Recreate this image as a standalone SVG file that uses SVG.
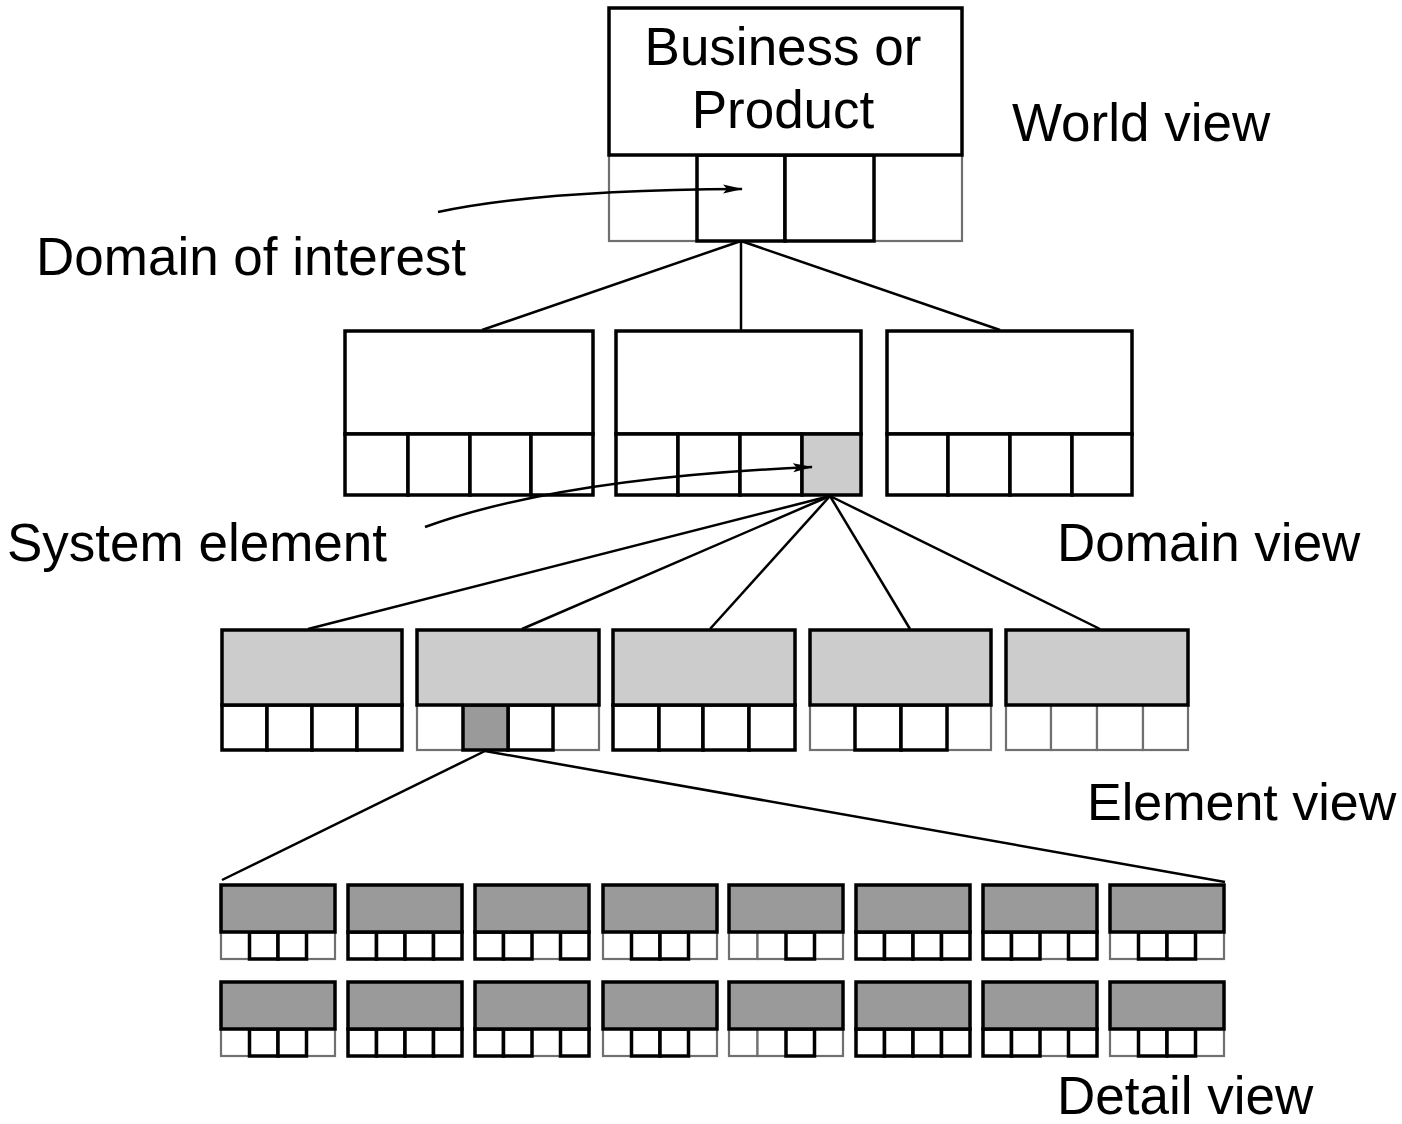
<svg xmlns="http://www.w3.org/2000/svg" width="1402" height="1124" viewBox="0 0 1402 1124">
<style>
.w{fill:#fff;stroke:#000;stroke-width:3.5}
.th{fill:#fff;stroke:#000;stroke-width:3.5}
.tn{fill:#fff;stroke:#707070;stroke-width:2.2}
.lt{fill:#ccc;stroke:#000;stroke-width:3.5}
.dk{fill:#9a9a9a;stroke:#000;stroke-width:3.5}
.conn{stroke:#000;stroke-width:2.5;fill:none}
.lbl{font-family:"Liberation Sans",Arial,sans-serif;font-size:53px;fill:#000}
</style>
<defs>
<marker id="ah2" viewBox="0 0 20 10" refX="19" refY="5" markerWidth="20" markerHeight="10" orient="auto" markerUnits="userSpaceOnUse">
<path d="M0,0.5 L20,5 L0,9.5 L4,5 z" fill="#000"/>
</marker>
<g id="dA">
<rect class="tn" x="0" y="47" width="28.5" height="27"/>
<rect class="tn" x="85.5" y="47" width="28.5" height="27"/>
<rect class="th" x="28.5" y="47" width="28.5" height="27"/>
<rect class="th" x="57" y="47" width="28.5" height="27"/>
<rect class="dk" x="0" y="0" width="114" height="47"/>
</g>
<g id="dB">
<rect class="th" x="0" y="47" width="28.5" height="27"/>
<rect class="th" x="28.5" y="47" width="28.5" height="27"/>
<rect class="th" x="57" y="47" width="28.5" height="27"/>
<rect class="th" x="85.5" y="47" width="28.5" height="27"/>
<rect class="dk" x="0" y="0" width="114" height="47"/>
</g>
<g id="dC">
<rect class="tn" x="57" y="47" width="28.5" height="27"/>
<rect class="th" x="0" y="47" width="28.5" height="27"/>
<rect class="th" x="28.5" y="47" width="28.5" height="27"/>
<rect class="th" x="85.5" y="47" width="28.5" height="27"/>
<rect class="dk" x="0" y="0" width="114" height="47"/>
</g>
<g id="dD">
<rect class="tn" x="0" y="47" width="28.5" height="27"/>
<rect class="tn" x="28.5" y="47" width="28.5" height="27"/>
<rect class="tn" x="85.5" y="47" width="28.5" height="27"/>
<rect class="th" x="57" y="47" width="28.5" height="27"/>
<rect class="dk" x="0" y="0" width="114" height="47"/>
</g>
</defs>
<rect width="1402" height="1124" fill="#fff"/>

<g id="connectors">
<line class="conn" x1="741" y1="241" x2="482" y2="330"/>
<line class="conn" x1="741" y1="241" x2="741" y2="330"/>
<line class="conn" x1="741" y1="241" x2="1000" y2="330"/>
<line class="conn" x1="830" y1="496" x2="308" y2="629"/>
<line class="conn" x1="830" y1="496" x2="522" y2="629"/>
<line class="conn" x1="830" y1="496" x2="710" y2="629"/>
<line class="conn" x1="830" y1="496" x2="910" y2="629"/>
<line class="conn" x1="830" y1="496" x2="1100" y2="629"/>
<line class="conn" x1="485" y1="751" x2="222" y2="880"/>
<line class="conn" x1="485" y1="751" x2="1225" y2="882"/>
</g>

<g id="world">
<rect class="tn" x="609" y="155" width="88" height="86"/>
<rect class="tn" x="874" y="155" width="88" height="86"/>
<rect class="th" x="697" y="155" width="88" height="86"/>
<rect class="th" x="785" y="155" width="89" height="86"/>
<rect class="w" x="609" y="8" width="353" height="147"/>
<text class="lbl" x="783" y="65" text-anchor="middle">Business or</text>
<text class="lbl" x="783" y="128" text-anchor="middle">Product</text>
</g>

<g id="domain1">
<rect class="w" x="345" y="331" width="248" height="103"/>
<rect class="th" x="345" y="434" width="63" height="61"/>
<rect class="th" x="408" y="434" width="62" height="61"/>
<rect class="th" x="470" y="434" width="61" height="61"/>
<rect class="th" x="531" y="434" width="62" height="61"/>
</g>
<g id="domain2">
<rect class="w" x="616" y="331" width="245" height="103"/>
<rect class="th" x="616" y="434" width="62" height="61"/>
<rect class="th" x="678" y="434" width="62" height="61"/>
<rect class="th" x="740" y="434" width="62" height="61"/>
<rect class="lt" x="802" y="434" width="59" height="61"/>
</g>
<g id="domain3">
<rect class="w" x="887" y="331" width="245" height="103"/>
<rect class="th" x="887" y="434" width="61" height="61"/>
<rect class="th" x="948" y="434" width="62" height="61"/>
<rect class="th" x="1010" y="434" width="62" height="61"/>
<rect class="th" x="1072" y="434" width="60" height="61"/>
</g>

<g id="element1">
<rect class="th" x="222" y="705" width="45" height="45"/>
<rect class="th" x="267" y="705" width="45" height="45"/>
<rect class="th" x="312" y="705" width="45" height="45"/>
<rect class="th" x="357" y="705" width="45" height="45"/>
<rect class="lt" x="222" y="630" width="180" height="75"/>
</g>
<g id="element2">
<rect class="tn" x="417" y="705" width="46" height="45"/>
<rect class="tn" x="553" y="705" width="46" height="45"/>
<rect class="th" x="508" y="705" width="45" height="45"/>
<rect class="dk" x="463" y="705" width="45" height="45"/>
<rect class="lt" x="417" y="630" width="182" height="75"/>
</g>
<g id="element3">
<rect class="th" x="613" y="705" width="46" height="45"/>
<rect class="th" x="659" y="705" width="44" height="45"/>
<rect class="th" x="703" y="705" width="46" height="45"/>
<rect class="th" x="749" y="705" width="46" height="45"/>
<rect class="lt" x="613" y="630" width="182" height="75"/>
</g>
<g id="element4">
<rect class="tn" x="810" y="705" width="45" height="45"/>
<rect class="tn" x="947" y="705" width="44" height="45"/>
<rect class="th" x="855" y="705" width="46" height="45"/>
<rect class="th" x="901" y="705" width="46" height="45"/>
<rect class="lt" x="810" y="630" width="181" height="75"/>
</g>
<g id="element5">
<rect class="tn" x="1006" y="705" width="45" height="45"/>
<rect class="tn" x="1051" y="705" width="46" height="45"/>
<rect class="tn" x="1097" y="705" width="46" height="45"/>
<rect class="tn" x="1143" y="705" width="45" height="45"/>
<rect class="lt" x="1006" y="630" width="182" height="75"/>
</g>

<g id="detail-r1c1"><use href="#dA" x="221" y="885"/></g>
<g id="detail-r1c2"><use href="#dB" x="348" y="885"/></g>
<g id="detail-r1c3"><use href="#dC" x="475" y="885"/></g>
<g id="detail-r1c4"><use href="#dA" x="603" y="885"/></g>
<g id="detail-r1c5"><use href="#dD" x="729" y="885"/></g>
<g id="detail-r1c6"><use href="#dB" x="856" y="885"/></g>
<g id="detail-r1c7"><use href="#dC" x="983" y="885"/></g>
<g id="detail-r1c8"><use href="#dA" x="1110" y="885"/></g>
<g id="detail-r2c1"><use href="#dA" x="221" y="982"/></g>
<g id="detail-r2c2"><use href="#dB" x="348" y="982"/></g>
<g id="detail-r2c3"><use href="#dC" x="475" y="982"/></g>
<g id="detail-r2c4"><use href="#dA" x="603" y="982"/></g>
<g id="detail-r2c5"><use href="#dD" x="729" y="982"/></g>
<g id="detail-r2c6"><use href="#dB" x="856" y="982"/></g>
<g id="detail-r2c7"><use href="#dC" x="983" y="982"/></g>
<g id="detail-r2c8"><use href="#dA" x="1110" y="982"/></g>

<g id="pointers">
<path class="conn" d="M438,212 Q540,190 742,189" marker-end="url(#ah2)"/>
<path class="conn" d="M425,527 Q560,478 812,467" marker-end="url(#ah2)"/>
</g>

<g id="labels">
<text class="lbl" x="1012" y="141">World view</text>
<text class="lbl" x="36" y="275">Domain of interest</text>
<text class="lbl" x="7" y="561">System element</text>
<text class="lbl" x="1057" y="561">Domain view</text>
<text class="lbl" x="1087" y="820" style="font-size:52px">Element view</text>
<text class="lbl" x="1057" y="1114">Detail view</text>
</g>
</svg>
